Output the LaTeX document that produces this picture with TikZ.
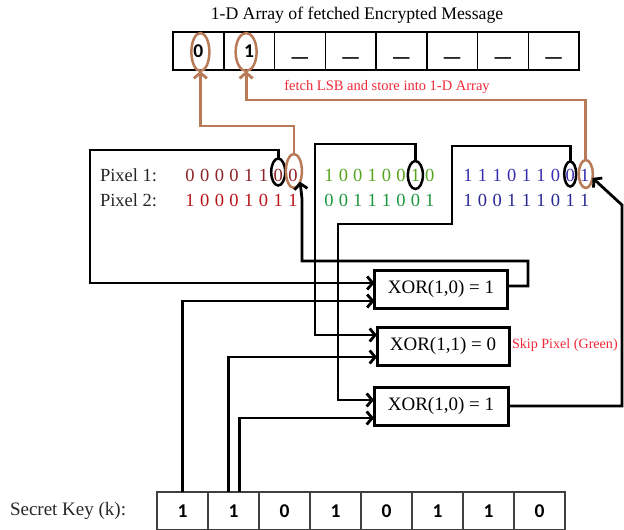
\documentclass[tikz,border=0pt]{standalone}
\usepackage{fontspec}
\setmainfont{Liberation Serif}
\newfontfamily\bitfont{Carlito}
\usetikzlibrary{arrows.meta,shapes.geometric,calc}
\definecolor{brownline}{RGB}{185,122,87}
\definecolor{redtxt}{RGB}{240,40,55}
\definecolor{pixA}{RGB}{140,35,40}
\definecolor{pixB}{RGB}{185,20,25}
\definecolor{pixC}{RGB}{85,165,30}
\definecolor{pixD}{RGB}{30,150,60}
\definecolor{pixE}{RGB}{55,45,175}
\definecolor{pixF}{RGB}{40,40,145}
\begin{document}
\begin{tikzpicture}[x=1pt,y=-1pt,
  every node/.style={inner sep=0pt, outer sep=0pt},
  conn/.style={line width=2.8pt, -{Straight Barb[length=5.5pt,width=13pt]}},
  bconn/.style={conn, draw=brownline},
  cell/.style={draw=black!75, line width=1.2pt, minimum width=51pt, minimum height=38pt,
    font=\bitfont\bfseries\fontsize{19.5}{22}\selectfont},
  xorbox/.style={draw, line width=3pt, minimum height=38pt, font=\fontsize{19}{22}\selectfont},
  bit/.style={font=\fontsize{18.5}{22}\selectfont},
  lbl/.style={font=\fontsize{18.5}{22}\selectfont, anchor=west, text=black!85},
  bring/.style={ellipse, draw=brownline, line width=2.5pt},
  kring/.style={ellipse, draw, line width=2.5pt},
]
\useasboundingbox (0,0) rectangle (624,530);

% title and top array
\node[font=\fontsize{17.7}{20}\selectfont] (title) at (357,15) {1-D Array of fetched Encrypted Message};
\foreach \v [count=\i] in {0,1,\scalebox{1.7}[1]{\_},\scalebox{1.7}[1]{\_},\scalebox{1.7}[1]{\_},\scalebox{1.7}[1]{\_},\scalebox{1.7}[1]{\_},\scalebox{1.7}[1]{\_}}
  \node[cell, draw=black, line width=1.5pt, minimum width=50.75pt] (t\i) at ({173+25.375+(\i-1)*50.75},51) {\vphantom{0}\v};
\node[bring, minimum width=18pt, minimum height=38pt] (te1) at ($(t1)+(2,1)$) {};
\node[bring, minimum width=21pt, minimum height=38pt] (te2) at ($(t2)+(-3,1)$) {};
\node[font=\fontsize{14.5}{17}\selectfont, text=redtxt] (fetch) at (387,87) {fetch LSB and store into 1-D Array};

% pixels
\node[lbl] (p1) at (100,175) {Pixel 1:};
\node[lbl] (p2) at (100,200) {Pixel 2:};
\foreach \d [count=\i] in {0,0,0,0,1,1,0,0}
  \node[bit, text=pixA] (a\i) at ({190+(\i-1)*14.7},175) {\d};
\foreach \d [count=\i] in {1,0,0,0,1,0,1,1}
  \node[bit, text=pixB] (b\i) at ({190+(\i-1)*14.7},200) {\d};
\foreach \d [count=\i] in {1,0,0,1,0,0,1,0}
  \node[bit, text=pixC] (c\i) at ({329+(\i-1)*14.4},175) {\d};
\foreach \d [count=\i] in {0,0,1,1,1,0,0,1}
  \node[bit, text=pixD] (d\i) at ({329+(\i-1)*14.4},200) {\d};
\foreach \d [count=\i] in {1,1,1,0,1,1,0,0,1}
  \node[bit, text=pixE] (e\i) at ({468+(\i-1)*14.6},175) {\d};
\foreach \d [count=\i] in {1,0,0,1,1,1,0,1,1}
  \node[bit, text=pixF] (f\i) at ({468+(\i-1)*14.6},200) {\d};

\node[kring, minimum width=14pt, minimum height=27pt] (kra) at ($(a7)+(0,-3)$) {};
\node[bring, minimum width=16pt, minimum height=34pt] (bra) at ($(a8)+(1,-4)$) {};
\node[kring, minimum width=15pt, minimum height=28pt] (krc) at (c7) {};
\node[kring, minimum width=12pt, minimum height=25pt] (kre) at ($(e8)+(0,-1)$) {};
\node[bring, minimum width=14pt, minimum height=28pt] (bre) at ($(e9)+(1,-1)$) {};

% XOR boxes
\node[xorbox, minimum width=133pt] (x1) at (441,289) {XOR(1,0) = 1};
\node[xorbox, minimum width=132pt] (x2) at (443,346) {XOR(1,1) = 0};
\node[xorbox, minimum width=134pt] (x3) at (441,406) {XOR(1,0) = 1};
\node[font=\fontsize{14.1}{17}\selectfont, text=redtxt, anchor=west] (skip) at (512,345) {Skip Pixel (Green)};

% secret key
\node[font=\fontsize{19}{22}\selectfont, anchor=west, text=black!85] (sk) at (10,511) {Secret Key (k):};
\foreach \v [count=\i] in {1,1,0,1,0,1,1,0}
  \node[cell] (k\i) at ({157+25.5+(\i-1)*51},511) {\v};

% brown connectors
\draw[bconn] (bra.north) -- ++(0,-28) -| (te1.south);
\draw[bconn] (bre.north) -- ++(0,-60) -| (te2.south);

% black connectors from pixels
\draw[conn] (kra.north) |- (90,150) |- ($(x1.west)+(0,-6)$);
\draw[conn] (krc.north) |- (315,144) |- ($(x2.west)+(0,-11)$);
\draw[conn] (kre.north) |- (452,146) |- (338,224) |- ($(x3.west)+(0,-6)$);

% key connectors
\draw[conn] (k1.north) |- ($(x1.west)+(0,12)$);
\draw[conn] ($(k2.north)+(-5,0)$) |- ($(x2.west)+(0,11)$);
\draw[conn] ($(k2.north)+(6,0)$) |- ($(x3.west)+(0,12)$);

% outputs
\draw[conn] ($(x1.east)+(0,-3)$) -| (528,261) -| (302,199) -- (bra.-60);
\draw[conn] (x3.east) -| (622,205) -- (bre.-30);
\end{tikzpicture}
\end{document}
